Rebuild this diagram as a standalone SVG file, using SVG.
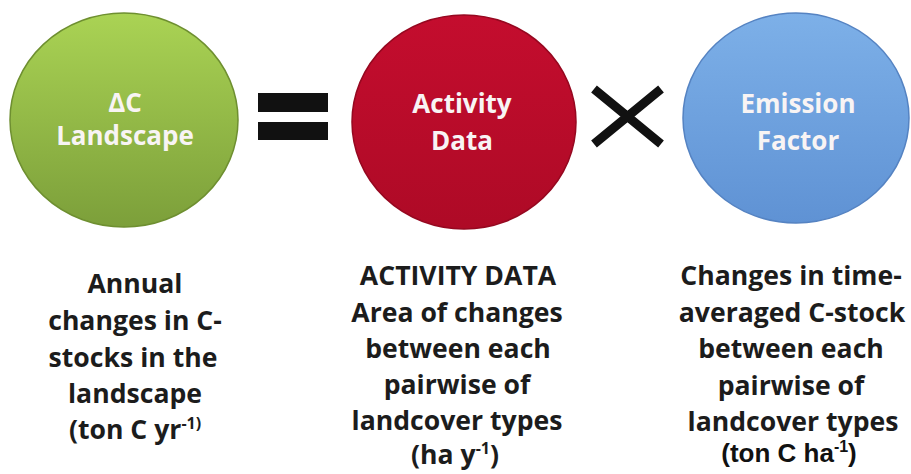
<svg xmlns="http://www.w3.org/2000/svg" width="911" height="474" viewBox="0 0 911 474">
<style>
  .lbl { font-family: "Open Sans", "Liberation Sans", sans-serif; font-weight: 700; font-size: 26px; fill: #f8f4f4; text-anchor: middle; }
  .desc { font-family: "Open Sans", Lato, "Liberation Sans", sans-serif; font-weight: 700; font-size: 26.6px; fill: #1c1c1c; text-anchor: middle; }
  .arial { font-family: "Liberation Sans", Arial, sans-serif; font-weight: 700; font-size: 26px; fill: #111111; text-anchor: middle; }
  .sup { font-size: 16px; }
  .op { fill: #111111; }
</style>
<defs>
  <linearGradient id="gGreen" x1="0" y1="0" x2="0" y2="1">
    <stop offset="0" stop-color="#aad354"/>
    <stop offset="1" stop-color="#7c9f3a"/>
  </linearGradient>
  <linearGradient id="gRed" x1="0" y1="0" x2="0" y2="1">
    <stop offset="0" stop-color="#c40d2e"/>
    <stop offset="1" stop-color="#ae0a26"/>
  </linearGradient>
  <linearGradient id="gBlue" x1="0" y1="0" x2="0" y2="1">
    <stop offset="0" stop-color="#7db0e8"/>
    <stop offset="1" stop-color="#5f92d4"/>
  </linearGradient>
</defs>

<g id="node-landscape">
  <ellipse cx="124" cy="120" rx="114" ry="107" fill="url(#gGreen)" stroke="#6e8f30" stroke-width="1.5"/>
  <text class="lbl" x="125" y="112">ΔC</text>
  <text class="lbl" x="125" y="145">Landscape</text>
</g>

<g id="op-equals" class="op">
  <rect x="258" y="93" width="70" height="19"/>
  <rect x="258" y="122" width="70" height="18"/>
</g>

<g id="node-activity">
  <ellipse cx="464" cy="122" rx="112" ry="107" fill="url(#gRed)" stroke="#960820" stroke-width="1.5"/>
  <text class="lbl" x="462" y="113">Activity</text>
  <text class="lbl" x="462" y="150">Data</text>
</g>

<g id="op-times">
  <path d="M594 89 L661 144 M661 89 L594 144" stroke="#111111" stroke-width="9" fill="none"/>
</g>

<g id="node-emission">
  <ellipse cx="796" cy="118" rx="113" ry="105" fill="url(#gBlue)" stroke="#5583c2" stroke-width="1.5"/>
  <text class="lbl" x="798" y="113">Emission</text>
  <text class="lbl" x="798" y="150">Factor</text>
</g>

<g id="desc-landscape">
  <text class="desc" x="135" y="293">Annual</text>
  <text class="desc" x="135" y="330">changes in C-</text>
  <text class="desc" x="133" y="367">stocks in the</text>
  <text class="desc" x="135" y="403">landscape</text>
  <text class="desc" x="135" y="439">(ton C yr<tspan class="sup" dy="-10">-1)</tspan></text>
</g>

<g id="desc-activity">
  <text class="desc" x="458" y="285">ACTIVITY DATA</text>
  <text class="desc" x="457" y="322">Area of changes</text>
  <text class="desc" x="458" y="358">between each</text>
  <text class="desc" x="457" y="394">pairwise of</text>
  <text class="desc" x="457" y="430">landcover types</text>
  <text class="desc" x="455" y="464">(ha y<tspan class="sup" dy="-10">-1</tspan><tspan dy="10">)</tspan></text>
</g>

<g id="desc-emission">
  <text class="desc" x="791" y="285">Changes in time-</text>
  <text class="desc" x="792" y="322">averaged C-stock</text>
  <text class="desc" x="791" y="358">between each</text>
  <text class="desc" x="791" y="395">pairwise of</text>
  <text class="desc" x="793" y="431">landcover types</text>
  <text class="arial" x="789" y="462">(ton C ha<tspan class="sup" dy="-10">-1</tspan><tspan dy="10">)</tspan></text>
</g>
</svg>
